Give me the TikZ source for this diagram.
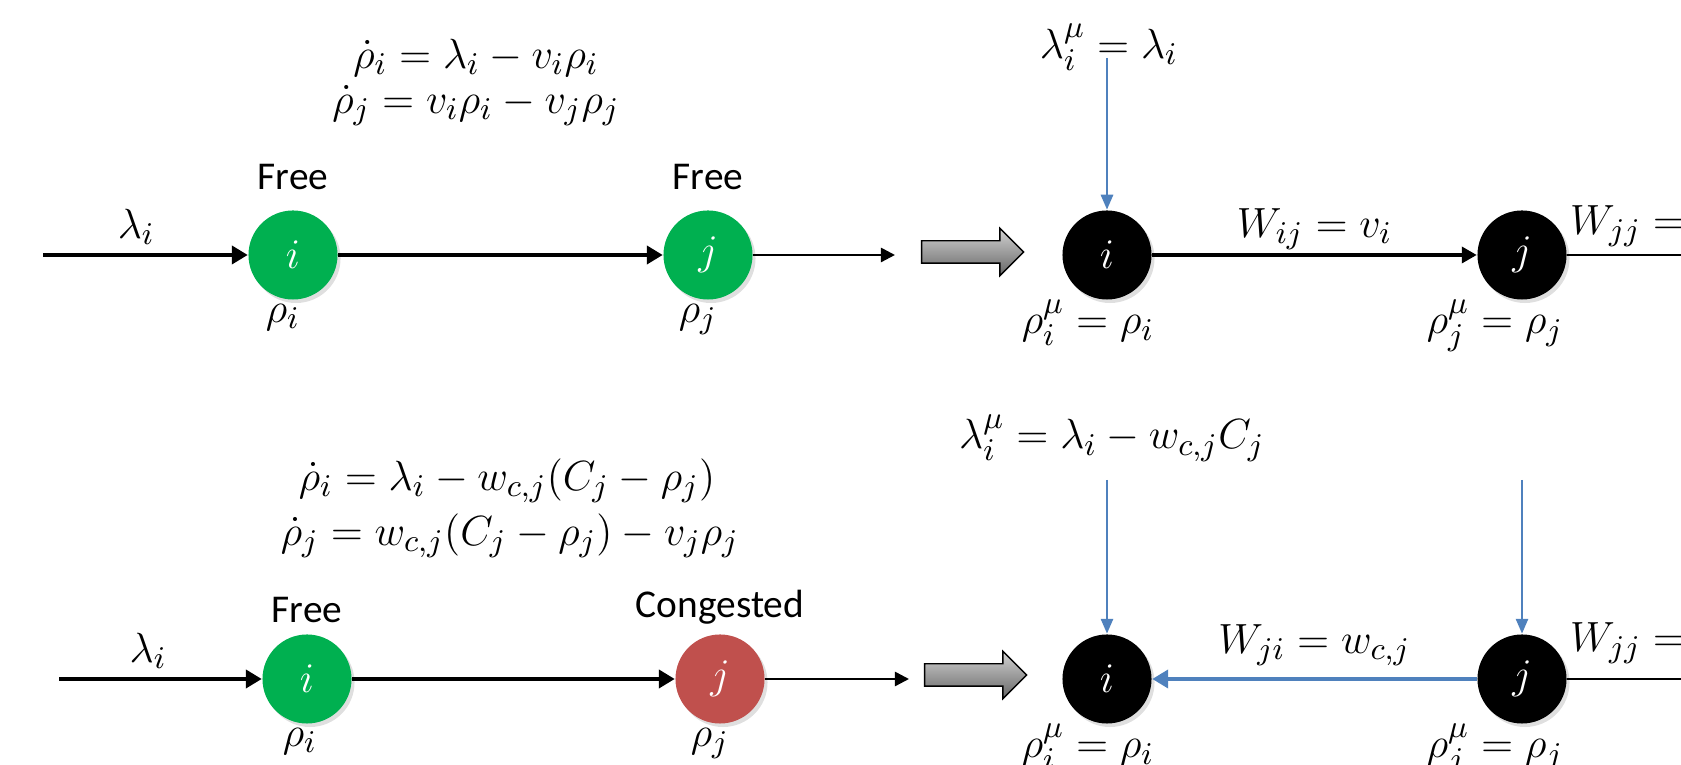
\documentclass[tikz,border=0pt]{standalone}
\usepackage{fontspec}
\setmainfont{Carlito}
\usepackage{tikz}
\usetikzlibrary{arrows.meta,positioning,shapes.geometric,shapes.arrows,shadows}
\definecolor{freegreen}{RGB}{0,176,80}
\definecolor{jamred}{RGB}{192,80,77}
\definecolor{linkblue}{RGB}{79,129,189}
\tikzset{
  cell/.style={
    circle,
    minimum size=8.9mm,
    inner sep=0pt,
    text=white,
    font=\fontsize{12.5}{14}\selectfont,
    drop shadow={opacity=0.25, shadow xshift=0.3mm, shadow yshift=-0.35mm}
  },
  freecell/.style={cell, fill=freegreen},
  jamcell/.style={cell, fill=jamred},
  mucell/.style={cell, fill=black},
  tag/.style={inner sep=1pt, font=\fontsize{11.2}{13}\selectfont},
  mlbl/.style={inner sep=1pt, font=\fontsize{12.5}{14}\selectfont},
  eqn/.style={inner sep=0pt, font=\fontsize{12.5}{13.2}\selectfont},
  flow/.style={-{Triangle[length=1.6mm,width=1.8mm]}, line width=1.2pt, draw=black},
  outflow/.style={-{Triangle[length=1.4mm,width=1.4mm]}, line width=0.7pt, draw=black},
  linkflow/.style={-{Triangle[length=1.5mm,width=1.6mm]}, line width=1pt, draw=black},
  exitline/.style={line width=0.8pt, draw=black},
  inject/.style={-{Triangle[length=1.5mm,width=1.2mm]}, line width=0.8pt, draw=linkblue},
  backflow/.style={-{Triangle[length=1.6mm,width=1.8mm]}, line width=1.4pt, draw=linkblue},
  blockarr/.style={
    single arrow,
    draw=black,
    thin,
    top color=gray!35,
    bottom color=gray!80!black,
    minimum height=1.02cm,
    minimum width=0.46cm,
    single arrow head extend=0.125cm,
    inner xsep=0pt,
    inner ysep=0.105cm
  }
}

\begin{document}
\begin{tikzpicture}[x=0.01cm, y=-0.01cm, node distance=1mm]
  \useasboundingbox (0,0) rectangle (1681,765);
  \clip (0,0) rectangle (1681,765);

  % upper case: i free, j free
  \node[eqn] (eqtopa) at (476,58) {$\dot{\rho}_i = \lambda_i - v_i\rho_i$};
  \node[eqn, below=0.7mm of eqtopa] (eqtopb) {$\dot{\rho}_j = v_i\rho_i - v_j\rho_j$};
  \coordinate (tin) at (43,255);
  \coordinate (tout) at (895,255);
  \node[freecell] (li) at (293,255) {$i$};
  \node[freecell] (lj) at (708,255) {$j$};
  \node[tag, above=1.6mm of li] (lifree) {Free};
  \node[tag, above=1.6mm of lj] (ljfree) {Free};
  \node[mlbl, below=0pt of li, xshift=-1mm] (lirho) {$\rho_i$};
  \node[mlbl, below=0pt of lj, xshift=-1mm] (ljrho) {$\rho_j$};
  \draw[flow] (tin) -- node[mlbl, above=0.5mm, pos=0.456] (lilam) {$\lambda_i$} (li);
  \draw[flow] (li) -- (lj);
  \draw[outflow] (lj) -- (tout);
  \node[blockarr] (toparr) at (967,252) {};

  \node[mucell] (ri) at (1107,255) {$i$};
  \node[mucell] (rj) at (1522,255) {$j$};
  \node[mlbl] (rilam) at (1109,47) {$\lambda_i^{\mu} = \lambda_i$};
  \coordinate (srctop) at (1107,58);
  \coordinate (redge) at (1720,255);
  \node[mlbl, below=-0.5mm of ri, xshift=-1.9mm] (rirho) {$\rho_i^{\mu} = \rho_i$};
  \node[mlbl, below=-0.5mm of rj, xshift=-2.7mm] (rjrho) {$\rho_j^{\mu} = \rho_j$};
  \draw[inject] (srctop) -- (ri);
  \draw[linkflow] (ri) -- node[mlbl, above=0pt] (wij) {$W_{ij} = v_i$} (rj);
  \draw[exitline] (rj) -- (redge);
  \node[mlbl, anchor=west] (wjjtop) at (1566,226) {$W_{jj} =$};

  % lower case: i free, j congested
  \node[eqn] (eqbota) at (507,481) {$\dot{\rho}_i = \lambda_i - w_{c,j}\big(C_j - \rho_j\big)$};
  \node[eqn, below=0.9mm of eqbota, xshift=0.3mm] (eqbotb) {$\dot{\rho}_j = w_{c,j}\big(C_j - \rho_j\big) - v_j\rho_j$};
  \coordinate (bin) at (59,679);
  \coordinate (bout) at (909,679);
  \node[freecell] (bi) at (307,679) {$i$};
  \node[jamcell] (bj) at (720,679) {$j$};
  \node[tag, above=0.7mm of bi] (bifree) {Free};
  \node[tag, above=0.5mm of bj] (bjjam) {Congested};
  \node[mlbl, below=0pt of bi, xshift=-0.7mm] (birho) {$\rho_i$};
  \node[mlbl, below=0pt of bj, xshift=-1mm] (bjrho) {$\rho_j$};
  \draw[flow] (bin) -- node[mlbl, above=0.5mm, pos=0.44] (bilam) {$\lambda_i$} (bi);
  \draw[flow] (bi) -- (bj);
  \draw[outflow] (bj) -- (bout);
  \node[blockarr] (botarr) at (970,675) {};

  \node[mucell] (bri) at (1107,679) {$i$};
  \node[mucell] (brj) at (1522,679) {$j$};
  \node[mlbl] (brilam) at (1112,438) {$\lambda_i^{\mu} = \lambda_i - w_{c,j}C_j$};
  \coordinate (srcbi) at (1107,480);
  \coordinate (srcbj) at (1522,480);
  \coordinate (bredge) at (1720,679);
  \node[mlbl, below=-0.5mm of bri, xshift=-1.9mm] (brirho) {$\rho_i^{\mu} = \rho_i$};
  \node[mlbl, below=-0.5mm of brj, xshift=-2.7mm] (brjrho) {$\rho_j^{\mu} = \rho_j$};
  \draw[inject] (srcbi) -- (bri);
  \draw[inject] (srcbj) -- (brj);
  \draw[backflow] (brj) -- node[mlbl, above=0.7mm] (wji) {$W_{ji} = w_{c,j}$} (bri);
  \draw[exitline] (brj) -- (bredge);
  \node[mlbl, anchor=west] (wjjbot) at (1566,643) {$W_{jj} =$};
\end{tikzpicture}
\end{document}
